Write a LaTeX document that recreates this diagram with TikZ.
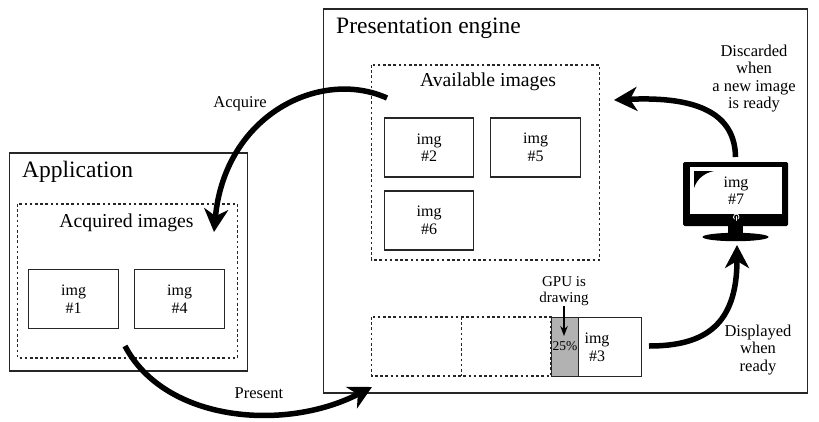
\documentclass[tikz,border=0pt]{standalone}
\usepackage{fontspec}
\setmainfont{Liberation Serif}
\usetikzlibrary{arrows.meta}
\tikzset{
  solidbox/.style={draw=black!85,line width=1.1pt,minimum width=#1,minimum height=59pt,inner sep=0pt,align=center,font=\fontsize{16}{17.6}\selectfont},
  solidbox/.default=90pt,
  region/.style={draw=black!85,line width=1.1pt,inner sep=0pt},
  dashregion/.style={draw=black!85,line width=1.15pt,dash pattern=on 2.6pt off 2.6pt,inner sep=0pt},
  lbl/.style={align=center,inner sep=0pt,font=\fontsize{16.5}{17.6}\selectfont},
  heading/.style={inner sep=0pt,anchor=base west,font=\fontsize{23.5}{26}\selectfont},
  subheading/.style={inner sep=0pt,anchor=base,font=\fontsize{19.7}{22}\selectfont},
  flow/.style={line width=5.5pt,-{Stealth[length=23pt,width=24pt,inset=7pt]}},
}
\begin{document}
\begin{tikzpicture}[x=1pt,y=-1pt]
\useasboundingbox (0,0) rectangle (819,421);
\fill[white] (0,0) rectangle (819,421);
% regions
\draw[region] (9.6,153) rectangle (247.6,371);
\draw[region] (323.6,9) rectangle (807.6,393);
\draw[dashregion] (17.6,204) rectangle (237.6,358);
\draw[dashregion] (371.6,65) rectangle (599.6,260);
\node[heading] (apptitle) at (22,177) {Application};
\node[heading] (pretitle) at (336,33) {Presentation engine};
\node[subheading] (acqtitle) at (126.5,227) {Acquired images};
\node[subheading] (avatitle) at (488,86) {Available images};
% images
\node[solidbox] (i1) at (73.6,299) {\raisebox{-1pt}{img}\\\raisebox{-1pt}{\#1}};
\node[solidbox] (i4) at (179.6,299) {\raisebox{-1pt}{img}\\\raisebox{-1pt}{\#4}};
\node[solidbox=89pt] (i2) at (429.1,147.5) {\raisebox{-1pt}{img}\\\raisebox{-1pt}{\#2}};
\node[solidbox] (i5) at (535.6,147.5) {\raisebox{-1pt}{img}\\\raisebox{-1pt}{\#5}};
\node[solidbox=89pt] (i6) at (429.1,220.5) {\raisebox{-1pt}{img}\\\raisebox{-1pt}{\#6}};
% queue
\draw[dashregion] (371.6,317) rectangle (551,376);
\draw[dashregion] (461.6,317) -- (461.6,376);
\node[solidbox=90pt,anchor=north west] (i3) at (551,317) {};
\node[draw=black!85,fill=black!30,line width=1.1pt,minimum width=27pt,minimum height=59pt,inner sep=0pt,anchor=north west,font=\fontsize{13.5}{15}\selectfont] (gray) at (551,317) {\raisebox{1.5pt}{25\%}};
\node[lbl,font=\fontsize{16}{17.6}\selectfont] (i3t) at (597,347) {img\\\#3};
\node[inner sep=0pt,align=center,font=\fontsize{15}{16.2}\selectfont] (gpu) at (564,291.5) {GPU is\\drawing};
\coordinate (gpuarrow) at (564,336);
\draw[line width=1.1pt,-{Stealth[length=10pt,width=7.5pt]}] (gpu.south -| gpuarrow) -- (gpuarrow);
% monitor
\fill[black,rounded corners=1.5pt] (683,162) rectangle (788,226);
\fill[black] (728,225) rectangle (743,237);
\fill[black] (735.5,237) ellipse [x radius=33pt,y radius=4.2pt];
\node[fill=white,minimum width=92pt,minimum height=47pt,inner sep=0pt,align=center,font=\fontsize{16}{17.6}\selectfont] (i7) at (736,190.5) {img\\\#7};
\fill[black] (694,171) -- (714,171) .. controls (704,173) and (697,179) .. (694,188) -- cycle;
\draw[white,line width=0.8pt,line cap=round] (738,219) arc [start angle=-50,end angle=230,radius=2.8pt];
\draw[white,line width=0.8pt,line cap=round] (736.2,216.5) -- (736.2,220.5);
\coordinate (montop) at (735.5,157);
\coordinate (monbot) at (737,245);
% labels
\node[lbl] (acq) at (240,104) {Acquire};
\node[lbl] (pres) at (259,393) {Present};
\node[lbl] (disc) at (754,78.5) {Discarded\\when\\a new image\\is ready};
\node[lbl] (disp) at (758,350) {Displayed\\when\\ready};
% connectors
\coordinate (acqfrom) at (387,98);
\coordinate (acqto) at (214,232);
\coordinate (presfrom) at (125,346);
\coordinate (presto) at (372,387);
\coordinate (discto) at (614,100);
\coordinate (dispfrom) at (649,346);
\draw[flow] (acqfrom) .. controls (320,68) and (225,115) .. (acqto);
\draw[flow] (presfrom) .. controls (165,422) and (285,432) .. (presto);
\draw[flow] (montop) .. controls (735,115) and (700,96) .. (discto);
\draw[flow] (dispfrom) .. controls (705,346) and (737,325) .. (monbot);
\end{tikzpicture}
\end{document}
